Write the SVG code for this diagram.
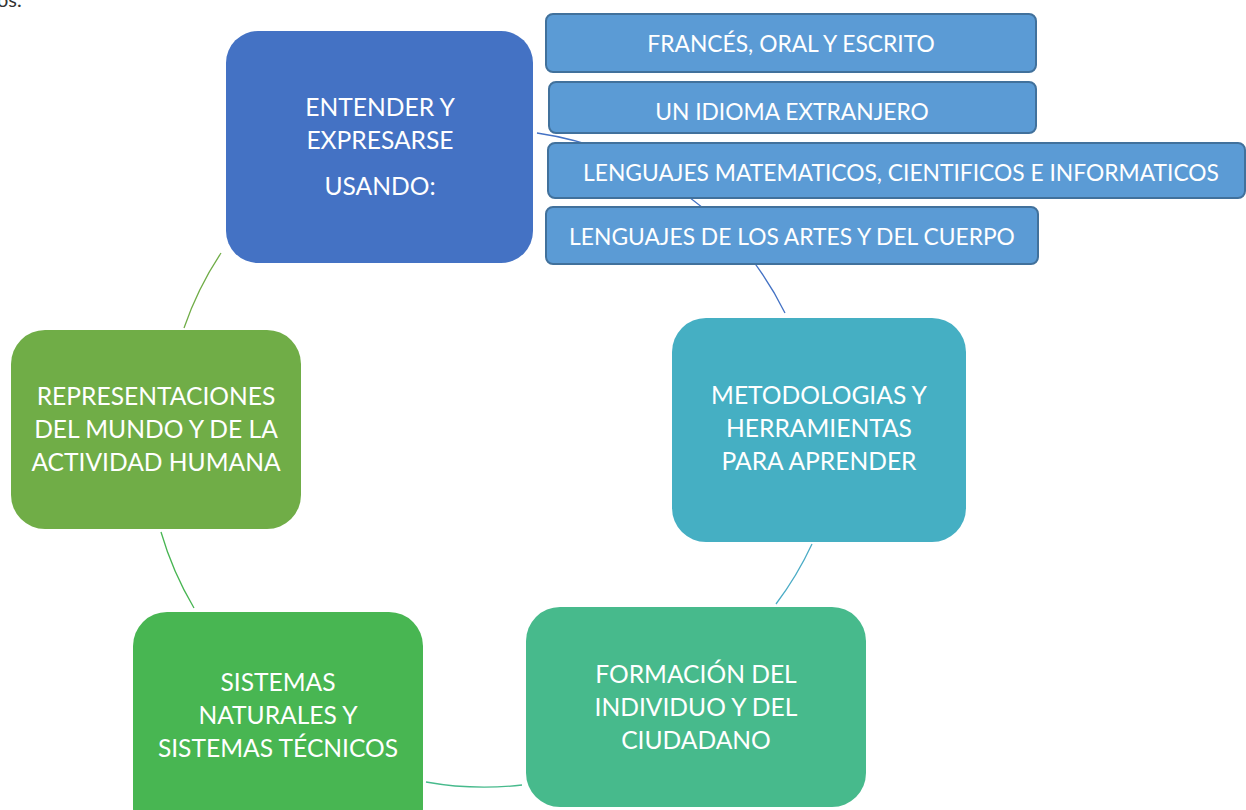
<svg xmlns="http://www.w3.org/2000/svg" width="1246" height="810" viewBox="0 0 1246 810">
<style>
.t{font-family:Lato,"Open Sans","Liberation Sans",sans-serif;fill:#fff;text-anchor:middle}
.big{font-size:24.6px}
.sm{font-size:22.8px}
.sub{fill:#5B9BD5;stroke:#41719C;stroke-width:2}
.arc{fill:none;stroke-width:1.3}
</style>
<rect width="1246" height="810" fill="#fff"/>
<text x="-3" y="7" style="font-family:Lato,'Liberation Sans',sans-serif;font-size:20px;fill:#333">os.</text>
<g id="connectors">
<path class="arc" stroke="#4472C4" d="M537,133 A330,330 0 0 1 785,313"/>
<path class="arc" stroke="#4BACC6" d="M812,544 A330,330 0 0 1 776,604"/>
<path class="arc" stroke="#47BA8C" d="M522,785 A330,330 0 0 1 426,782"/>
<path class="arc" stroke="#47B552" d="M194,608 A330,330 0 0 1 161,532"/>
<path class="arc" stroke="#70AD47" d="M184,328 A330,330 0 0 1 221,253"/>
</g>
<g id="n-entender">
<rect x="226" y="31" width="307" height="232" rx="32" fill="#4472C4"/>
<text class="t big" x="380" y="116">ENTENDER Y</text>
<text class="t big" x="380" y="149">EXPRESARSE</text>
<text class="t big" x="380" y="195">USANDO:</text>
</g>
<g id="n-frances">
<rect class="sub" x="546" y="14" width="490" height="58" rx="7"/>
<text class="t sm" x="791" y="52">FRANCÉS, ORAL Y ESCRITO</text>
</g>
<g id="n-idioma">
<rect class="sub" x="549" y="82" width="487" height="51" rx="7"/>
<text class="t sm" x="792" y="120">UN IDIOMA EXTRANJERO</text>
</g>
<g id="n-matematicos">
<rect class="sub" x="548" y="143" width="697" height="55" rx="7"/>
<text class="t sm" x="901" y="181">LENGUAJES MATEMATICOS, CIENTIFICOS E INFORMATICOS</text>
</g>
<g id="n-artes">
<rect class="sub" x="546" y="207" width="492" height="57" rx="7"/>
<text class="t sm" x="792" y="245">LENGUAJES DE LOS ARTES Y DEL CUERPO</text>
</g>
<g id="n-metodologias">
<rect x="672" y="318" width="294" height="224" rx="34" fill="#45AFC3"/>
<text class="t big" x="819" y="404">METODOLOGIAS Y</text>
<text class="t big" x="819" y="437">HERRAMIENTAS</text>
<text class="t big" x="819" y="470">PARA APRENDER</text>
</g>
<g id="n-formacion">
<rect x="526" y="607" width="340" height="200" rx="34" fill="#47BA8C"/>
<text class="t big" x="696" y="683">FORMACIÓN DEL</text>
<text class="t big" x="696" y="716">INDIVIDUO Y DEL</text>
<text class="t big" x="696" y="749">CIUDADANO</text>
</g>
<g id="n-sistemas">
<rect x="133" y="612" width="290" height="230" rx="34" fill="#48B652"/>
<text class="t big" x="278" y="691">SISTEMAS</text>
<text class="t big" x="278" y="724">NATURALES Y</text>
<text class="t big" x="278" y="757">SISTEMAS TÉCNICOS</text>
</g>
<g id="n-representaciones">
<rect x="11" y="330" width="290" height="199" rx="34" fill="#70AD47"/>
<text class="t big" x="156" y="405">REPRESENTACIONES</text>
<text class="t big" x="156" y="438">DEL MUNDO Y DE LA</text>
<text class="t big" x="156" y="471">ACTIVIDAD HUMANA</text>
</g>
</svg>
